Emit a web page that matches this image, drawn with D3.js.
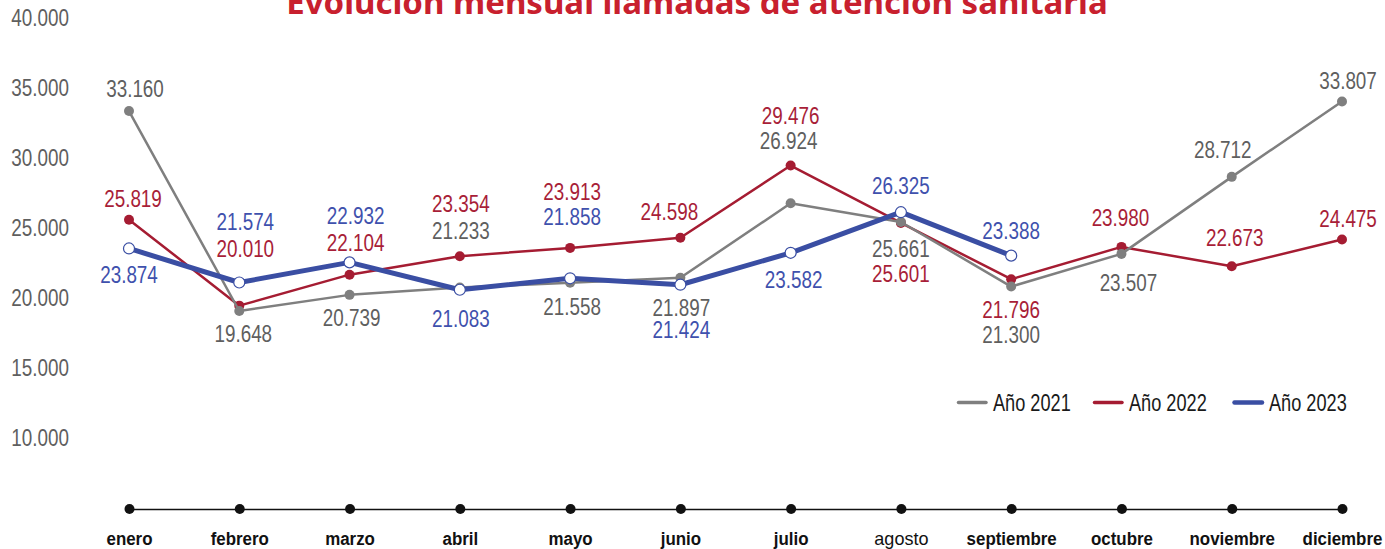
<!DOCTYPE html>
<html>
<head>
<meta charset="utf-8">
<script src="https://cdn.jsdelivr.net/npm/d3@7"></script>
<style>
  body { margin: 0; background: #fff; }
  svg { display: block; }
  text { font-family: "Liberation Sans", Arial, sans-serif; }
</style>
</head>
<body>
<script>
// Data
var months = ["enero", "febrero", "marzo", "abril", "mayo", "junio", "julio",
	"agosto", "septiembre", "octubre", "noviembre", "diciembre"];
var years = ["Año 2021", "Año 2022", "Año 2023"];
var calls2021 = [33160, 19648, 20739, 21233, 21558, 21897, 26924, 25661, 21300, 23507, 28712, 33807];
var calls2022 = [25819, 20010, 22104, 23354, 23913, 24598, 29476, 25601, 21796, 23980, 22673, 24475];
var calls2023 = [23874, 21574, 22932, 21083, 21858, 21424, 23582, 26325, 23388];
var yTicks = [10000, 15000, 20000, 25000, 30000, 35000, 40000];
var title = "Evolución mensual llamadas de atención sanitaria";

// Label placement (pixels, relative to each point)
var dy2021 = [-22, 23, 23, -57, 24, 30, -62, 27, 48, 29, -27, -21];
var dx2021 = [6, 4, 2, 1, 2, 1, -2, 0, 0, 7, -9, 6];
var dy2022 = [-21, -57, -32, -52, -56, -26, -50, 51, 31, -29, -28, -21];
var dx2022 = [4, 6, 6, 1, 2, -11, 0, 0, 0, -1, 3, 6];
var dy2023 = [26, -61, -46, 29, -61, 45, 27, -26, -25];
var dx2023 = [0, 6, 6, 1, 2, 1, 3, 0, 0];

var width = 1385, height = 549;
// horizontal squeeze to get a condensed face out of Liberation Sans
var narrow = 0.82, narrowMonth = 0.89;

var svg = d3.select("body").append("svg")
	.attr("width", width)
	.attr("height", height);

var x = d3.scalePoint()
	.domain(months)
	.range([129, 1342]);

// value scale for the marks
var y = d3.scaleLinear()
	.domain([0, 40000])
	.range([601.8, 9.8]);

// the tick labels sit on their own grid
var yLabelScale = d3.scaleLinear()
	.domain([10000, 40000])
	.range([438.5, 18.5]);

var es = d3.formatLocale({decimal: ",", thousands: ".", grouping: [3], currency: ["", "€"]});
var fmt = es.format(",");

// Title
svg.append("text")
	.attr("x", 697)
	.attr("y", 13.5)
	.attr("text-anchor", "middle")
	.style("font-family", "'Noto Sans', 'Open Sans', sans-serif")
	.style("font-weight", "bold")
	.style("font-size", "33px")
	.attr("fill", "#c8202e")
	.text(title);

// Y labels
var yAxis = d3.axisLeft(yLabelScale)
	.tickValues(yTicks)
	.tickSize(0)
	.tickPadding(0)
	.tickFormat(fmt);

var gy = svg.append("g")
	.attr("transform", "translate(69,0)")
	.call(yAxis);
gy.select(".domain").remove();
gy.selectAll("text")
	.attr("fill", "#5f5f5f")
	.attr("transform", "scale(" + narrow + ",1)")
	.style("font-size", "23px")
	.style("font-family", null);

// X axis
var xAxis = d3.axisBottom(x)
	.tickSize(0)
	.tickPadding(22.5);

var gx = svg.append("g")
	.attr("transform", "translate(0,509)")
	.call(xAxis);
gx.select(".domain")
	.attr("stroke", "#111")
	.attr("stroke-width", 1.5);
gx.selectAll("text")
	.attr("fill", "#111")
	.attr("transform", function(d) { return "scale(" + (d == "agosto" ? 0.95 : narrowMonth) + ",1)"; })
	.style("font-size", "19px")
	.style("font-family", null)
	.style("font-weight", function(d) { return d == "agosto" ? "normal" : "bold"; });
gx.selectAll(".tick").append("circle")
	.attr("r", 5)
	.attr("fill", "#111");

// Series
var series = [
	{name: years[1], values: calls2022, dx: dx2022, dy: dy2022, line: "#a51c32", text: "#a81e38", width: 2.5, hollow: false},
	{name: years[0], values: calls2021, dx: dx2021, dy: dy2021, line: "#7f7f7f", text: "#5f5f5f", width: 2.5, hollow: false},
	{name: years[2], values: calls2023, dx: dx2023, dy: dy2023, line: "#3a4ea3", text: "#3f51ad", width: 5, hollow: true}
];

var line = d3.line()
	.x(function(d, i) { return x(months[i]); })
	.y(function(d) { return y(d); });

series.forEach(function(s) {
	var g = svg.append("g");
	g.append("path")
		.datum(s.values)
		.attr("fill", "none")
		.attr("stroke", s.line)
		.attr("stroke-width", s.width)
		.attr("stroke-linejoin", "round")
		.attr("d", line);
	g.selectAll("circle")
		.data(s.values)
		.enter()
		.append("circle")
		.attr("cx", function(d, i) { return x(months[i]); })
		.attr("cy", function(d) { return y(d); })
		.attr("r", s.hollow ? 5.5 : 5)
		.attr("fill", s.hollow ? "#fff" : s.line)
		.attr("stroke", s.hollow ? s.line : "none")
		.attr("stroke-width", 1.2);
});

// Data labels on top
series.forEach(function(s) {
	svg.append("g").selectAll("text")
		.data(s.values)
		.enter()
		.append("text")
		.attr("transform", function(d, i) {
			return "translate(" + (x(months[i]) + s.dx[i]) + "," + (y(d) + s.dy[i]) + ") scale(" + narrow + ",1)";
		})
		.attr("dy", "0.35em")
		.attr("text-anchor", "middle")
		.attr("fill", s.text)
		.style("font-size", "23px")
		.text(function(d) { return fmt(d); });
});

// Legend
var legendX = [957, 1093, 1233];
var legendColors = ["#7f7f7f", "#a51c32", "#3a4ea3"];
var legendWidths = [3.5, 3.5, 4.5];
var legend = svg.append("g")
	.selectAll("g")
	.data(years)
	.enter()
	.append("g")
	.attr("transform", function(d, i) { return "translate(" + legendX[i] + ",402.5)"; });
legend.append("line")
	.attr("x1", 1.5).attr("x2", 29)
	.attr("stroke", function(d, i) { return legendColors[i]; })
	.attr("stroke-width", function(d, i) { return legendWidths[i]; })
	.attr("stroke-linecap", "round");
legend.append("text")
	.attr("transform", "translate(36,0) scale(0.79,1)")
	.attr("dy", "0.35em")
	.attr("fill", "#1a1a1a")
	.style("font-size", "23px")
	.text(function(d) { return d; });
</script>
</body>
</html>
